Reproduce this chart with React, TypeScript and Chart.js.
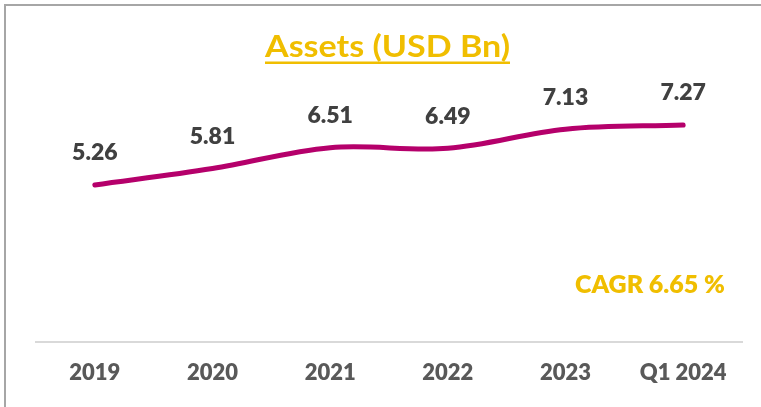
import React, { useEffect, useRef } from "react";
import { Chart, registerables } from "chart.js";

Chart.register(...registerables);

const categories = ["2019", "2020", "2021", "2022", "2023", "Q1 2024"];
const assets = [5.26, 5.81, 6.51, 6.49, 7.13, 7.27];
const valueLabels = ["5.26", "5.81", "6.51", "6.49", "7.13", "7.27"];
const titleText = "Assets (USD Bn)";
const cagrText = "CAGR 6.65 %";

const FONT = "Lato, 'Open Sans', sans-serif";
const GOLD = "#F0BE00";

const decorPlugin = {
  id: "decor",
  afterDraw(chart: any) {
    const ctx = chart.ctx as CanvasRenderingContext2D;
    const w = chart.width;
    const h = chart.height;
    ctx.save();
    // frame
    ctx.strokeStyle = "#A6A6A6";
    ctx.lineWidth = 2;
    ctx.beginPath();
    ctx.moveTo(5, h);
    ctx.lineTo(5, 5);
    ctx.lineTo(w, 5);
    ctx.stroke();

    // title (slightly stretched horizontally to the reference width)
    ctx.fillStyle = GOLD;
    ctx.font = `bold 30px ${FONT}`;
    ctx.textAlign = "center";
    ctx.textBaseline = "alphabetic";
    const cx = 387.5;
    const targetW = 245;
    const tw = ctx.measureText(titleText).width;
    const sx = targetW / tw;
    ctx.save();
    ctx.translate(cx, 0);
    ctx.scale(sx, 1);
    ctx.fillText(titleText, 0, 57);
    ctx.restore();
    ctx.fillRect(cx - targetW / 2, 61.5, targetW, 2.5);

    // CAGR
    ctx.font = `800 25px ${FONT}`;
    ctx.textAlign = "right";
    ctx.fillText(cagrText, 725, 293);

    // value labels
    const meta = chart.getDatasetMeta(0);
    ctx.fillStyle = "#404040";
    ctx.font = `800 23px ${FONT}`;
    ctx.textAlign = "center";
    meta.data.forEach((pt: any, i: number) => {
      ctx.fillText(valueLabels[i], pt.x, pt.y - 24.5);
    });
    ctx.restore();
  },
};

export default function App() {
  const ref = useRef<HTMLCanvasElement>(null);
  useEffect(() => {
    document.body.style.margin = "0";
    const chart = new Chart(ref.current!, {
      type: "line",
      data: {
        labels: categories,
        datasets: [
          {
            data: assets,
            borderColor: "#B5006B",
            borderWidth: 5,
            borderCapStyle: "round",
            tension: 0.35,
            pointRadius: 0,
            fill: false,
          },
        ],
      },
      options: {
        animation: false,
        responsive: false,
        layout: { padding: { left: 36, right: 19, top: 43.5, bottom: 0 } },
        plugins: { legend: { display: false }, tooltip: { enabled: false }, title: { display: false } },
        scales: {
          x: {
            offset: true,
            grid: { display: false, drawTicks: false },
            border: { display: true, color: "#D9D9D9", width: 2 },
            ticks: {
              color: "#595959",
              font: { family: FONT, size: 22, weight: "800" },
              padding: 18,
              maxRotation: 0,
              autoSkip: false,
            },
            afterFit: (s: any) => {
              s.height = 65;
            },
          },
          y: { display: false, min: 0, max: 10 },
        },
      },
      plugins: [decorPlugin],
    });
    return () => chart.destroy();
  }, []);
  return <canvas ref={ref} width={761} height={407} style={{ display: "block" }} />;
}
